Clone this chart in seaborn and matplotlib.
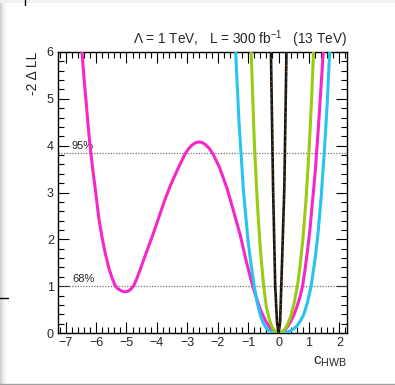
import numpy as np
import pandas as pd
import matplotlib
matplotlib.use("Agg")
import matplotlib.pyplot as plt
from matplotlib.ticker import MultipleLocator
from matplotlib.patches import Rectangle
from matplotlib.lines import Line2D
import seaborn as sns

# ---------------- data ----------------
mag_x = [-6.46, -6.39, -6.32, -6.25, -6.17, -6.10, -6.02, -5.91, -5.81, -5.71, -5.58, -5.47,
         -5.36, -5.29, -5.22, -5.15, -5.07, -5.00, -4.92, -4.85, -4.77, -4.66, -4.55, -4.43,
         -4.30, -4.12, -3.94, -3.75, -3.55, -3.30, -3.06, -2.95, -2.85, -2.74, -2.63, -2.52,
         -2.40, -2.29, -2.17, -1.95, -1.70, -1.50, -1.26, -1.05, -0.85, -0.72, -0.60, -0.42,
         -0.30, -0.20, -0.10, 0.00, 0.10, 0.20, 0.30, 0.40, 0.50, 0.60, 0.70, 0.79,
         0.87, 0.95, 1.03, 1.10, 1.20, 1.30, 1.38, 1.47]
mag_y = [6.0, 5.4, 4.9, 4.35, 3.84, 3.45, 3.05, 2.46, 2.07, 1.74, 1.39, 1.17,
         1.0, 0.95, 0.92, 0.895, 0.88, 0.885, 0.90, 0.94, 1.0, 1.16, 1.35, 1.57,
         1.8, 2.12, 2.46, 2.82, 3.16, 3.52, 3.84, 3.94, 4.01, 4.06, 4.08, 4.07,
         4.02, 3.95, 3.84, 3.55, 3.1, 2.65, 2.09, 1.5, 1.0, 0.74, 0.5, 0.25,
         0.13, 0.06, 0.015, 0.0, 0.015, 0.06, 0.14, 0.25, 0.38, 0.55, 0.76, 1.0,
         1.35, 1.75, 2.2, 2.7, 3.4, 4.3, 5.1, 6.0]

cyan_x = [-1.41, -1.30, -1.15, -1.00, -0.90, -0.80, -0.70, -0.60, -0.50, -0.40, -0.30, -0.20,
          -0.10, 0.00, 0.10, 0.20, 0.30, 0.40, 0.50, 0.60, 0.70, 0.82, 0.95, 1.07,
          1.20, 1.30, 1.40, 1.50, 1.60, 1.68]
cyan_y = [6.0, 4.5, 3.0, 1.95, 1.45, 1.0, 0.64, 0.38, 0.21, 0.10, 0.045, 0.02,
          0.005, 0.0, 0.003, 0.01, 0.025, 0.05, 0.09, 0.15, 0.24, 0.38, 0.65, 1.0,
          1.58, 2.14, 2.9, 3.82, 4.9, 6.0]

green_x = [-0.90, -0.80, -0.70, -0.60, -0.49, -0.40, -0.30, -0.20, -0.10, 0.00, 0.10,
           0.20, 0.30, 0.40, 0.50, 0.62, 0.70, 0.80, 0.90, 1.00, 1.08, 1.15]
green_y = [6.0, 4.12, 2.8, 1.8, 1.0, 0.55, 0.28, 0.11, 0.03, 0.0, 0.02,
           0.08, 0.19, 0.35, 0.6, 1.0, 1.4, 2.0, 2.82, 3.87, 4.9, 6.0]

black_x = [-0.25, -0.18, -0.11, -0.05, 0.00, 0.05, 0.09, 0.19, 0.26]
black_y = [6.0, 3.1, 1.0, 0.22, 0.0, 0.22, 1.0, 3.1, 6.0]

orange_x = [-0.245, -0.178, -0.108, -0.05, 0.00, 0.05, 0.092, 0.195, 0.27]
orange_y = [6.0, 3.1, 1.0, 0.22, 0.0, 0.22, 1.0, 3.1, 6.0]

cl_levels = [1.0, 3.84]
cl_labels = ["68%", "95%"]

x_ticks = [-7, -6, -5, -4, -3, -2, -1, 0, 1, 2]
y_ticks = [0, 1, 2, 3, 4, 5, 6]

title = "\u039b = 1 TeV,   L = 300 fb$^{-1}$   (13 TeV)"
xlabel = r"c$_{\mathrm{HWB}}$"
ylabel = "-2 \u0394 LL"

# ---------------- style ----------------
sns.set_style("ticks")
plt.rcParams["font.family"] = ["Liberation Sans", "DejaVu Sans"]
plt.rcParams["mathtext.fontset"] = "custom"
plt.rcParams["mathtext.rm"] = "Liberation Sans"
plt.rcParams["mathtext.it"] = "Liberation Sans:italic"
plt.rcParams["mathtext.bf"] = "Liberation Sans:bold"
plt.rcParams["axes.unicode_minus"] = True

W, H = 395, 385
fig = plt.figure(figsize=(W / 100, H / 100), dpi=100)
fig.patch.set_facecolor("white")

# screenshot frame artefacts (shadow at left/top, line at bottom)
for i, c in enumerate(["#d0d0d0", "#dcdcdc", "#e6e6e6", "#eeeeee", "#f4f4f4", "#f9f9f9", "#fcfcfc"]):
    fig.patches.append(Rectangle((i / W, 0), 1 / W, 1 - 3 / H, transform=fig.transFigure,
                                 facecolor=c, edgecolor="none", zorder=0))
fig.patches.append(Rectangle((0, 1 - 3 / H), 1, 3 / H, transform=fig.transFigure,
                             facecolor="#f2f2f2", edgecolor="none", zorder=0))
fig.lines.append(Line2D([0, 1], [1 - 383.5 / H] * 2, transform=fig.transFigure,
                        color="#a0a0a0", lw=1.0))
fig.lines.append(Line2D([24.5 / W] * 2, [1, 1 - 5 / H], transform=fig.transFigure,
                        color="black", lw=1.0))
fig.lines.append(Line2D([0, 8 / W], [1 - 297.5 / H] * 2, transform=fig.transFigure,
                        color="black", lw=1.0))

L, R, T, B = 58, 347, 52, 333
ax = fig.add_axes([L / W, 1 - B / H, (R - L) / W, (B - T) / H])
ax.set_facecolor("white")

# confidence level lines
for lvl, lab in zip(cl_levels, cl_labels):
    ax.axhline(lvl, color="#707070", lw=0.9, ls=(0, (1, 1.2)), zorder=1)
    ax.text(-6.79, lvl + 0.05, lab, fontsize=8, ha="left", va="bottom", color="#222222")

def curve(xs, ys, **kw):
    df = pd.DataFrame({"x": xs, "y": ys})
    sns.lineplot(data=df, x="x", y="y", sort=False, estimator=None, ax=ax, **kw)

curve(mag_x, mag_y, color="#f527c9", lw=2.2, zorder=3)
curve(cyan_x, cyan_y, color="#27c4f0", lw=2.2, zorder=4)
curve(green_x, green_y, color="#99cc11", lw=2.2, zorder=5)
curve(black_x, black_y, color="#1a1410", lw=1.9, zorder=6)
curve(orange_x, orange_y, color="#d9862a", lw=0.6, ls=(0, (1, 6)), zorder=7)

ax.set_xlim(-7.25, 2.25)
ax.set_ylim(0, 6)
ax.set_xticks(x_ticks)
ax.set_yticks(y_ticks)
ax.xaxis.set_minor_locator(MultipleLocator(0.2))
ax.yaxis.set_minor_locator(MultipleLocator(0.2))
ax.tick_params(which="both", direction="in", top=True, right=True, color="black", width=0.8)
ax.tick_params(which="major", length=8, labelsize=9, pad=3)
ax.tick_params(which="minor", length=4)
for s in ax.spines.values():
    s.set_color("black")
    s.set_linewidth(1.0)

ax.set_xlabel(xlabel, fontsize=11, loc="right", labelpad=4)
ax.set_ylabel("")
fig.text(33 / W, 1 - 52 / H, ylabel, rotation=90, ha="center", va="top", fontsize=10)
ax.set_title(title, fontsize=9.8, loc="right", pad=6)

fig.savefig("out.png", dpi=100, facecolor=fig.get_facecolor())
